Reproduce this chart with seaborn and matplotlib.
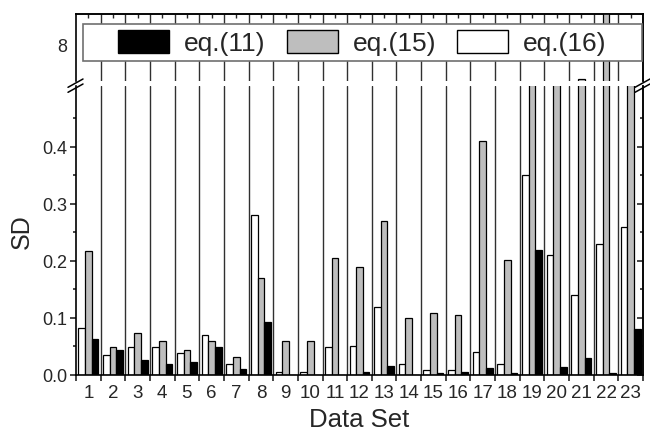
import numpy as np
import pandas as pd
import matplotlib
matplotlib.use("Agg")
import matplotlib.pyplot as plt
import matplotlib.patches as mpatches
import matplotlib.ticker as ticker
from matplotlib.lines import Line2D
import seaborn as sns

# values (SD per data set)
data_sets = [str(i) for i in range(1, 24)]
eq11 = [0.063, 0.044, 0.026, 0.019, 0.023, 0.049, 0.011, 0.093, 0.0, 0.0, 0.0, 0.005,
        0.016, 0.0, 0.004, 0.006, 0.012, 0.004, 0.219, 0.014, 0.030, 0.004, 0.080]
eq15 = [0.217, 0.049, 0.073, 0.059, 0.043, 0.060, 0.031, 0.170, 0.059, 0.059, 0.205, 0.190,
        0.270, 0.100, 0.109, 0.105, 0.410, 0.202, 3.2, 2.6, 6.86, 9.6, 4.1]
eq16 = [0.082, 0.035, 0.049, 0.049, 0.039, 0.070, 0.019, 0.280, 0.005, 0.006, 0.049, 0.050,
        0.120, 0.020, 0.009, 0.009, 0.040, 0.020, 0.351, 0.210, 0.140, 0.230, 0.260]
methods = ["eq.(11)", "eq.(15)", "eq.(16)"]
colors = {"eq.(11)": "#000000", "eq.(15)": "#bebebe", "eq.(16)": "#ffffff"}
lo_ticks = [0.0, 0.1, 0.2, 0.3, 0.4]
lo_minor = [0.05, 0.15, 0.25, 0.35, 0.45]

df = pd.DataFrame({
    "Data Set": data_sets * 3,
    "SD": eq11 + eq15 + eq16,
    "method": [methods[0]] * 23 + [methods[1]] * 23 + [methods[2]] * 23,
})

sns.set_style("white")
plt.rcParams["font.family"] = ["Liberation Sans", "DejaVu Sans"]

W, H = 650, 435
fig = plt.figure(figsize=(W / 100, H / 100), dpi=100)


def px_axes(left, top, right, bottom):
    return fig.add_axes([left / W, 1 - bottom / H, (right - left) / W, (bottom - top) / H])


ax_lo = px_axes(76, 87, 643, 376)
ax_hi = px_axes(76, 15, 643, 82)

for ax in (ax_lo, ax_hi):
    sns.barplot(data=df, x="Data Set", y="SD", hue="method", order=data_sets,
                hue_order=["eq.(16)", "eq.(15)", "eq.(11)"], palette=colors,
                saturation=1, width=0.81, edgecolor="black", linewidth=0.9,
                legend=False, ax=ax)
    for b in np.arange(0.5, 22.5, 1):
        ax.axvline(b, color="#303030", lw=1.0, zorder=0)
    ax.set_xlim(-0.5, 22.5)
    ax.set_xlabel("")
    ax.set_ylabel("")
    for s in ax.spines.values():
        s.set_linewidth(1.2)
        s.set_color("black")

# lower panel
ax_lo.set_ylim(0, 0.507)
ax_lo.spines["top"].set_visible(False)
ax_lo.yaxis.set_major_locator(ticker.FixedLocator(lo_ticks))
ax_lo.yaxis.set_minor_locator(ticker.FixedLocator(lo_minor))
ax_lo.yaxis.set_major_formatter(ticker.FormatStrFormatter("%.1f"))
ax_lo.tick_params(axis="y", which="major", direction="out", length=4, width=1.2,
                  labelsize=13, pad=2, left=True, right=False)
ax_lo.tick_params(axis="y", which="minor", direction="out", length=2.5, width=1.2,
                  left=True, right=False)
ax_lo.set_xticks(range(23))
ax_lo.set_xticklabels(data_sets)
ax_lo.xaxis.set_minor_locator(ticker.FixedLocator(np.arange(-0.5, 23, 1)))
ax_lo.tick_params(axis="x", which="major", length=0, labelsize=13.5, pad=6.5)
ax_lo.tick_params(axis="x", which="minor", direction="out", length=4, width=1.2, bottom=True)
sec_lo = ax_lo.secondary_yaxis("right")
sec_lo.yaxis.set_major_locator(ticker.FixedLocator(lo_ticks))
sec_lo.yaxis.set_minor_locator(ticker.FixedLocator(lo_minor))
sec_lo.tick_params(which="major", direction="in", length=4, width=1.2, labelright=False)
sec_lo.tick_params(which="minor", direction="in", length=2.5, width=1.2)
sec_lo.spines["right"].set_linewidth(1.2)

# upper panel
ax_hi.set_ylim(6.8, 9.0)
ax_hi.spines["bottom"].set_visible(False)
ax_hi.set_yticks([8])
ax_hi.set_yticklabels(["8"])
ax_hi.yaxis.set_minor_locator(ticker.FixedLocator([7]))
ax_hi.tick_params(axis="y", which="major", direction="out", length=4, width=1.2,
                  labelsize=13, pad=2)
ax_hi.tick_params(axis="y", which="minor", direction="in", length=2.5, width=1.2)
ax_hi.set_xticks([])
sec_top = ax_hi.secondary_xaxis("top")
sec_top.set_xticks(range(23))
sec_top.tick_params(direction="in", length=3, width=1.0, labeltop=False)
sec_top.spines["top"].set_linewidth(1.2)
sec_hi = ax_hi.secondary_yaxis("right")
sec_hi.set_yticks([8])
sec_hi.tick_params(direction="in", length=4, width=1.2, labelright=False)
sec_hi.spines["right"].set_linewidth(1.2)

# axis break marks on both sides
for xs in (76, 643):
    for dy in (0, 5):
        fig.add_artist(Line2D([(xs - 8) / W, (xs + 7) / W],
                              [1 - (88.3 + dy) / H, 1 - (80 + dy) / H],
                              color="black", lw=1.1, transform=fig.transFigure))

ax_lo.set_ylabel("SD", fontsize=18, labelpad=6)
fig.text(359.5 / W, 1 - 420 / H, "Data Set", fontsize=18.5, ha="center", va="center")

# legend box
fig.add_artist(mpatches.Rectangle((83 / W, 1 - 62 / H), (642 - 83) / W, 37 / H,
                                  transform=fig.transFigure, facecolor="white",
                                  edgecolor="#707070", lw=1.2, zorder=10))
handles = [mpatches.Patch(facecolor=colors[m], edgecolor="black", lw=1.0, label=m)
           for m in methods]
leg = fig.legend(handles=handles, ncol=3, loc="center",
                 bbox_to_anchor=(362.5 / W, 1 - 43.5 / H), frameon=False,
                 fontsize=19, handlelength=1.93, handleheight=1.0,
                 handletextpad=0.57, columnspacing=0.8, borderpad=0)
leg.set_zorder(11)

fig.savefig("out.png", dpi=100)
